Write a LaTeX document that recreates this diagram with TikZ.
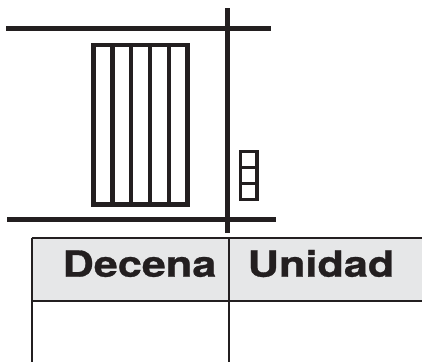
\documentclass[tikz,border=0pt]{standalone}
\usepackage{fontspec}
\newfontfamily\headfont[FakeStretch=1.2,FakeBold=0.8]{TeX Gyre Heros}
\definecolor{ink}{HTML}{231F20}
\definecolor{headgray}{HTML}{E6E7E8}
\begin{document}
\begin{tikzpicture}[x=1pt,y=-1pt,
  thickline/.style={draw=ink,line width=5pt},
  rodline/.style={draw=ink,line width=4.6pt,line join=miter},
  cubeline/.style={draw=ink,line width=3.3pt,line join=miter},
  tableline/.style={draw=ink,line width=1.8pt},
  headtext/.style={text=ink,font=\headfont\bfseries\fontsize{36}{36}\selectfont,anchor=base,inner sep=0pt}]
\useasboundingbox (0,0) rectangle (422,362);
% main frame lines
\draw[thickline] (6,28.3) -- (271,28.3);
\draw[thickline] (7,219) -- (276,219);
\draw[thickline] (227,8) -- (227,232.7);
% ten-rods
\draw[rodline] (93.3,45) rectangle (187.7,204.7);
\foreach \xx in {112.2,131.1,150,168.9}
  \draw[rodline] (\xx,45) -- (\xx,204.7);
% unit cubes
\draw[cubeline] (240.3,151.7) rectangle (257,199.3);
\draw[cubeline] (240.3,167.6) -- (257,167.6);
\draw[cubeline] (240.3,183.5) -- (257,183.5);
% table
\fill[headgray] (32.3,238.3) rectangle (422,301);
\draw[tableline] (31.5,238.3) -- (422,238.3);
\draw[tableline] (32.3,301) -- (422,301);
\draw[tableline] (32.3,238.3) -- (32.3,362);
\draw[tableline] (228.7,238.3) -- (228.7,362);
\node[headtext] (decena) at (139.5,276.7) {Decena};
\node[headtext] (unidad) at (321,276.7) {Unidad};
\end{tikzpicture}
\end{document}
